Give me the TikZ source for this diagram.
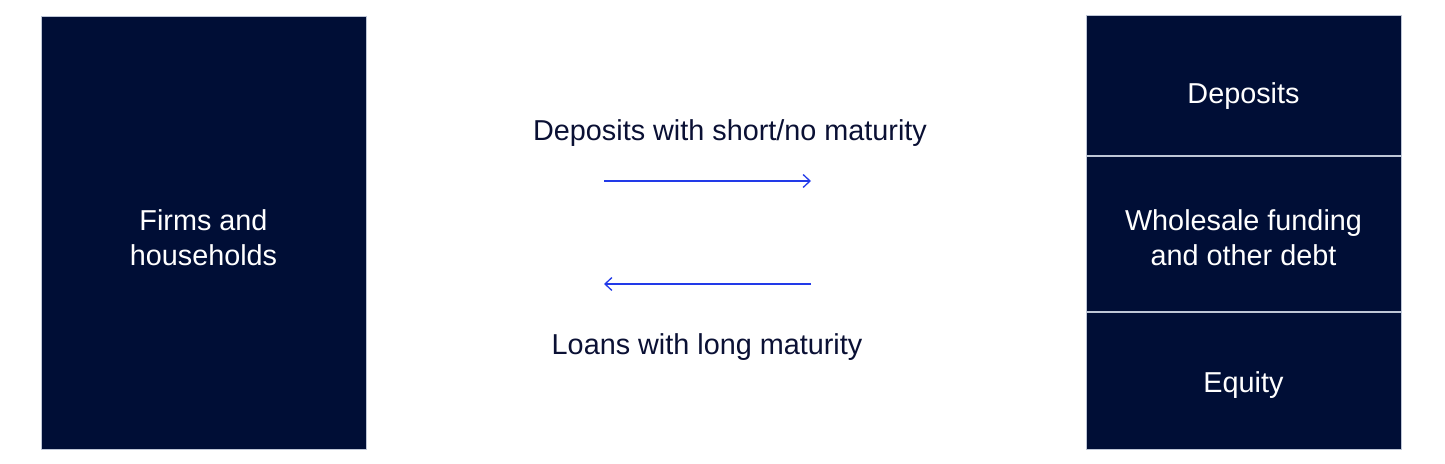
\documentclass[tikz,border=0pt]{standalone}
\usepackage{fontspec}
\setmainfont{Liberation Sans}
\usetikzlibrary{arrows.meta}
\definecolor{navy}{RGB}{0,14,54}
\definecolor{edge}{RGB}{190,198,214}
\definecolor{flow}{RGB}{34,58,232}
\definecolor{ink}{RGB}{10,16,52}
\tikzset{
  block/.style={rectangle,fill=navy,draw=edge,line width=1pt,inner sep=0pt},
  blocktext/.style={text=white,align=center,inner sep=0pt,font=\fontsize{28.8}{35}\selectfont},
  tag/.style={text=ink,font=\fontsize{28.8}{35}\selectfont,inner sep=0pt},
  flowarrow/.style={flow,line width=1.3pt,-{Straight Barb[length=7pt,width=13pt,line width=1.3pt]}}
}
\begin{document}
\begin{tikzpicture}[x=1pt,y=-1pt]
\useasboundingbox (0,0) rectangle (1445,463);
% left side and balance sheet
\node[block,minimum width=325,minimum height=433] (firms) at (203.5,232.5) {};
\node[block,minimum width=315,minimum height=140] (deposits) at (1243.5,85.5) {};
\node[block,minimum width=315,minimum height=155] (wholesale) at (1243.5,234) {};
\node[block,minimum width=315,minimum height=136.5] (equity) at (1243.5,381) {};
\node[blocktext] (firmstext) at (203.5,237.5) {Firms and\\households};
\node[blocktext] (depositstext) at (1243.5,96) {Deposits};
\node[blocktext] (wholesaletext) at (1243.5,238) {Wholesale funding\\and other debt};
\node[blocktext] (equitytext) at (1243.5,385) {Equity};
% flows
\node[tag] (short) at (730,133) {Deposits with short/no maturity};
\node[tag] (long) at (707,347) {Loans with long maturity};
\coordinate (a) at (604,181);
\coordinate (b) at (811,181);
\coordinate (c) at (811,284);
\coordinate (d) at (604,284);
\draw[flowarrow] (a) -- (b);
\draw[flowarrow] (c) -- (d);
\end{tikzpicture}
\end{document}
